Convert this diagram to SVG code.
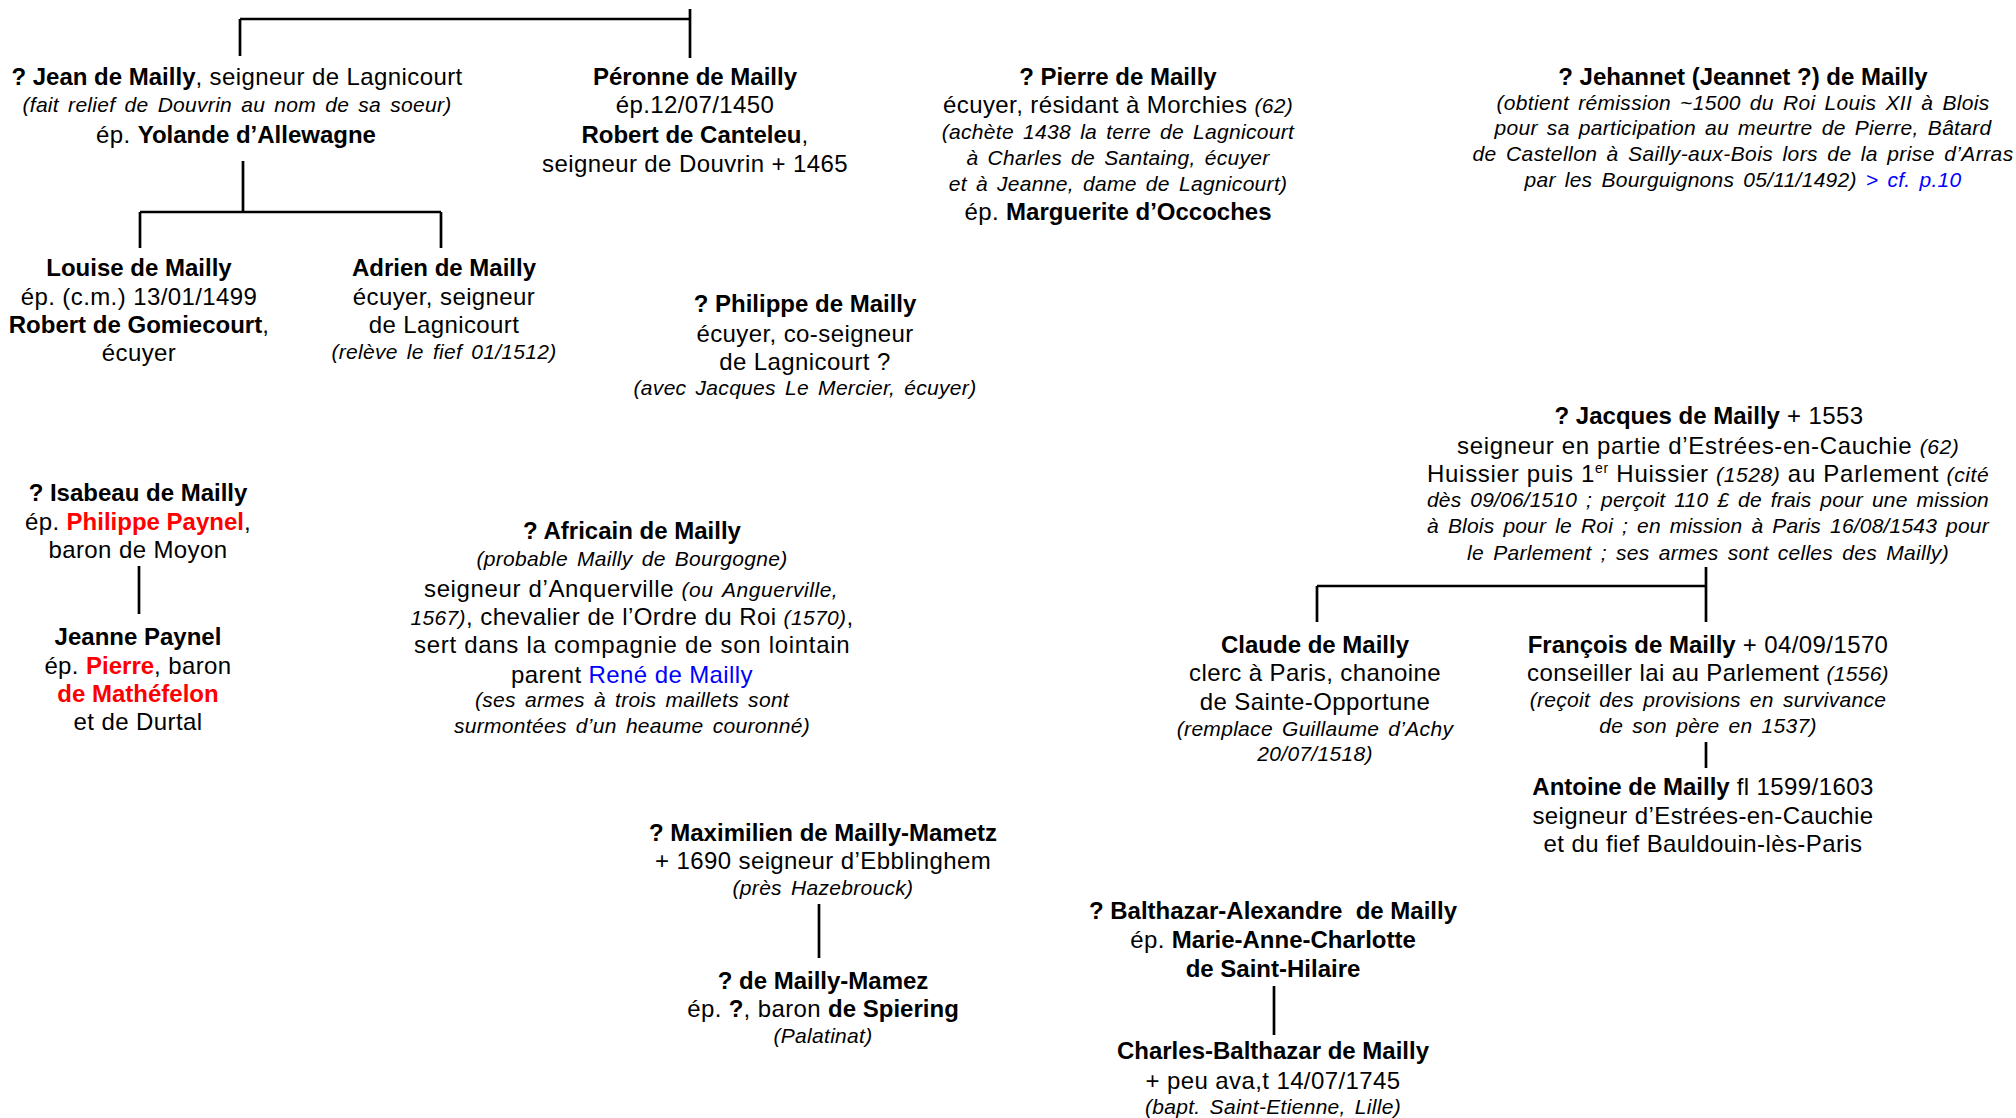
<svg xmlns="http://www.w3.org/2000/svg" width="2016" height="1118" viewBox="0 0 2016 1118">
<style>
text{font-family:"Liberation Sans",Arial,sans-serif;font-size:24px;fill:#000;text-anchor:middle;letter-spacing:0.4px}
.b{font-weight:bold;letter-spacing:0}
.i{font-style:italic;font-size:21px;letter-spacing:0.3px;word-spacing:3px}
.r{fill:#ff0000;font-weight:bold;letter-spacing:0}
.u{fill:#0000ff}
.sup{font-size:14px}
.con path{fill:none;stroke:#000;stroke-width:2.7}
</style>
<rect width="2016" height="1118" fill="#fff"/>
<g class="con" id="connectors">
<path d="M240,19 H690 M240,19 V56 M690,9 V58"/>
<path d="M243,161 V212 M140,212 H441 M140,212 V248 M441,212 V248"/>
<path d="M139,566 V614"/>
<path d="M1706,567 V622 M1317,586 H1706 M1317,586 V622"/>
<path d="M1706,742 V768"/>
<path d="M819,904 V958"/>
<path d="M1274,986 V1035"/>
</g>
<g id="jean">
<text x="237" y="85"><tspan class="b">? Jean de Mailly</tspan>, seigneur de Lagnicourt</text>
<text x="237" y="112" class="i">(fait relief de Douvrin au nom de sa soeur)</text>
<text x="236" y="143">ép. <tspan class="b">Yolande d’Allewagne</tspan></text>
</g>
<g id="peronne">
<text x="695" y="85" class="b">Péronne de Mailly</text>
<text x="695" y="113">ép.12/07/1450</text>
<text x="695" y="143"><tspan class="b">Robert de Canteleu</tspan>,</text>
<text x="695" y="172">seigneur de Douvrin + 1465</text>
</g>
<g id="pierre">
<text x="1118" y="85" class="b">? Pierre de Mailly</text>
<text x="1118" y="113">écuyer, résidant à Morchies <tspan class="i">(62)</tspan></text>
<text x="1118" y="139" class="i">(achète 1438 la terre de Lagnicourt</text>
<text x="1118" y="165" class="i">à Charles de Santaing, écuyer</text>
<text x="1118" y="191" class="i">et à Jeanne, dame de Lagnicourt)</text>
<text x="1118" y="220">ép. <tspan class="b">Marguerite d’Occoches</tspan></text>
</g>
<g id="jehannet">
<text x="1743" y="85" class="b">? Jehannet (Jeannet ?) de Mailly</text>
<text x="1743" y="110" class="i" textLength="493">(obtient rémission ~1500 du Roi Louis XII à Blois</text>
<text x="1743" y="135" class="i" textLength="497">pour sa participation au meurtre de Pierre, Bâtard</text>
<text x="1743" y="161" class="i" textLength="541">de Castellon à Sailly-aux-Bois lors de la prise d’Arras</text>
<text x="1743" y="187" class="i" textLength="437">par les Bourguignons 05/11/1492) <tspan class="u">&gt; cf. p.10</tspan></text>
</g>
<g id="louise">
<text x="139" y="276" class="b">Louise de Mailly</text>
<text x="139" y="305">ép. (c.m.) 13/01/1499</text>
<text x="139" y="333"><tspan class="b">Robert de Gomiecourt</tspan>,</text>
<text x="139" y="361">écuyer</text>
</g>
<g id="adrien">
<text x="444" y="276" class="b">Adrien de Mailly</text>
<text x="444" y="305">écuyer, seigneur</text>
<text x="444" y="333">de Lagnicourt</text>
<text x="444" y="359" class="i">(relève le fief 01/1512)</text>
</g>
<g id="philippe">
<text x="805" y="312" class="b">? Philippe de Mailly</text>
<text x="805" y="342">écuyer, co-seigneur</text>
<text x="805" y="370">de Lagnicourt ?</text>
<text x="805" y="395" class="i">(avec Jacques Le Mercier, écuyer)</text>
</g>
<g id="jacques">
<text x="1709" y="424"><tspan class="b">? Jacques de Mailly</tspan> + 1553</text>
<text x="1708" y="454" textLength="502">seigneur en partie d’Estrées-en-Cauchie <tspan class="i">(62)</tspan></text>
<text x="1708" y="482" textLength="562">Huissier puis 1<tspan class="sup" dy="-9">er</tspan><tspan dy="9"> Huissier </tspan><tspan class="i">(1528)</tspan> au Parlement <tspan class="i">(cité</tspan></text>
<text x="1708" y="507" class="i" textLength="562">dès 09/06/1510 ; perçoit 110 £ de frais pour une mission</text>
<text x="1708" y="533" class="i" textLength="562">à Blois pour le Roi ; en mission à Paris 16/08/1543 pour</text>
<text x="1708" y="560" class="i">le Parlement ; ses armes sont celles des Mailly)</text>
</g>
<g id="isabeau">
<text x="138" y="501" class="b">? Isabeau de Mailly</text>
<text x="138" y="530">ép. <tspan class="r">Philippe Paynel</tspan>,</text>
<text x="138" y="558">baron de Moyon</text>
</g>
<g id="jeanne">
<text x="138" y="645" class="b">Jeanne Paynel</text>
<text x="138" y="674">ép. <tspan class="r">Pierre</tspan>, baron</text>
<text x="138" y="702" class="r">de Mathéfelon</text>
<text x="138" y="730">et de Durtal</text>
</g>
<g id="africain">
<text x="632" y="539" class="b">? Africain de Mailly</text>
<text x="632" y="566" class="i">(probable Mailly de Bourgogne)</text>
<text x="631" y="597" textLength="414">seigneur d’Anquerville <tspan class="i">(ou Anguerville,</tspan></text>
<text x="632" y="625" textLength="443"><tspan class="i">1567)</tspan>, chevalier de l’Ordre du Roi <tspan class="i">(1570)</tspan>,</text>
<text x="632" y="653" textLength="436">sert dans la compagnie de son lointain</text>
<text x="632" y="683">parent <tspan class="u">René de Mailly</tspan></text>
<text x="632" y="707" class="i">(ses armes à trois maillets sont</text>
<text x="632" y="733" class="i">surmontées d’un heaume couronné)</text>
</g>
<g id="claude">
<text x="1315" y="653" class="b">Claude de Mailly</text>
<text x="1315" y="681">clerc à Paris, chanoine</text>
<text x="1315" y="710">de Sainte-Opportune</text>
<text x="1315" y="736" class="i">(remplace Guillaume d’Achy</text>
<text x="1315" y="761" class="i">20/07/1518)</text>
</g>
<g id="francois">
<text x="1708" y="653"><tspan class="b">François de Mailly</tspan> + 04/09/1570</text>
<text x="1708" y="681">conseiller lai au Parlement <tspan class="i">(1556)</tspan></text>
<text x="1708" y="707" class="i">(reçoit des provisions en survivance</text>
<text x="1708" y="733" class="i">de son père en 1537)</text>
</g>
<g id="antoine">
<text x="1703" y="795"><tspan class="b">Antoine de Mailly</tspan> fl 1599/1603</text>
<text x="1703" y="824">seigneur d’Estrées-en-Cauchie</text>
<text x="1703" y="852">et du fief Bauldouin-lès-Paris</text>
</g>
<g id="maximilien">
<text x="823" y="841" class="b">? Maximilien de Mailly-Mametz</text>
<text x="823" y="869">+ 1690 seigneur d’Ebblinghem</text>
<text x="823" y="895" class="i">(près Hazebrouck)</text>
</g>
<g id="mamez">
<text x="823" y="989" class="b">? de Mailly-Mamez</text>
<text x="823" y="1017">ép. <tspan class="b">?</tspan>, baron <tspan class="b">de Spiering</tspan></text>
<text x="823" y="1043" class="i">(Palatinat)</text>
</g>
<g id="balthazar">
<text x="1273" y="919" class="b" xml:space="preserve">? Balthazar-Alexandre  de Mailly</text>
<text x="1273" y="948">ép. <tspan class="b">Marie-Anne-Charlotte</tspan></text>
<text x="1273" y="977" class="b">de Saint-Hilaire</text>
</g>
<g id="charles">
<text x="1273" y="1059" class="b">Charles-Balthazar de Mailly</text>
<text x="1273" y="1089">+ peu ava,t 14/07/1745</text>
<text x="1273" y="1114" class="i">(bapt. Saint-Etienne, Lille)</text>
</g>
</svg>
